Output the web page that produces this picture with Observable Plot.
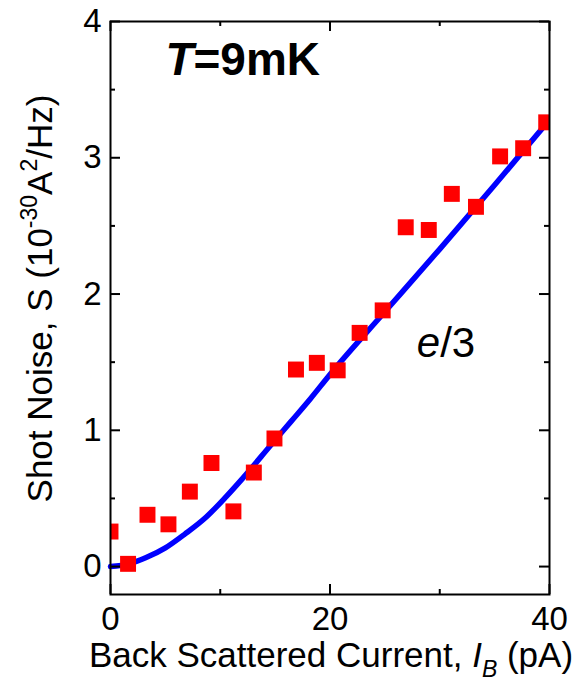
<!DOCTYPE html>
<html><head><meta charset="utf-8">
<script src="https://cdn.jsdelivr.net/npm/d3@7"></script>
<script src="https://cdn.jsdelivr.net/npm/@observablehq/plot@0.6"></script>
<style>body{margin:0;background:#fff}</style>
</head><body><div id="chart"></div>
<script>
// measured shot noise (red squares)
const measX = [0, 1.6, 3.37, 5.28, 7.23, 9.2, 11.2, 13.06, 14.94, 16.9, 18.8, 20.7, 22.7, 24.8, 26.9, 29.0, 31.1, 33.3, 35.5, 37.6, 39.7];
const measS = [0.257, 0.02, 0.38, 0.31, 0.55, 0.76, 0.405, 0.69, 0.94, 1.446, 1.495, 1.44, 1.715, 1.88, 2.49, 2.47, 2.735, 2.64, 3.01, 3.07, 3.26];
// e/3 theory curve (blue)
const fitX = [0, 1.7, 3.2, 5.0, 6.8, 8.7, 10.5, 12.0, 14.6, 16.4, 18.2, 20, 25, 30, 35, 39.7];
const fitS = [0, 0.02, 0.064, 0.137, 0.24, 0.362, 0.51, 0.644, 0.89, 1.06, 1.23, 1.41, 1.87, 2.33, 2.80, 3.25];
// ticks
const xMajor = [0, 20, 40];
const xMinor = [10, 30];
const yMajor = [0, 1, 2, 3, 4];
const yMinor = [0.5, 1.5, 2.5, 3.5];
const tempLabel = ["T=9mK"];
const fitLabel = ["e/3"];
const xLabel = "Back Scattered Current, IB (pA)";
const yLabel = "Shot Noise, S (10-30A2/Hz)";

const meas = measX.map((x, i) => ({x, s: measS[i]}));
const fit = fitX.map((x, i) => ({x, s: fitS[i]}));

const W = 580, H = 688;
const mL = 110, mR = 31, mT = 21, mB = 94;
const iW = W - mL - mR, iH = H - mT - mB;
const font = "'Liberation Sans', Arial, sans-serif";

const svg = Plot.plot({
  width: W, height: H,
  marginLeft: mL, marginRight: mR, marginTop: mT, marginBottom: mB,
  style: {fontFamily: font, background: "white", color: "black"},
  x: {domain: [0, 40]},
  y: {domain: [-0.205, 4]},
  marks: [
    Plot.line(fit, {x: "x", y: "s", stroke: "#0000ff", strokeWidth: 5.5, curve: "monotone-x", strokeLinecap: "round"}),
    Plot.dot(meas, {x: "x", y: "s", symbol: "square", r: 9, fill: "#ff0000", clip: true}),
    // inward ticks
    Plot.tickX(xMajor, {x: d => d, insetTop: iH - 10, strokeWidth: 2}),
    Plot.tickX(xMajor, {x: d => d, insetBottom: iH - 10, strokeWidth: 2}),
    Plot.tickX(xMinor, {x: d => d, insetTop: iH - 5, strokeWidth: 2}),
    Plot.tickX(xMinor, {x: d => d, insetBottom: iH - 5, strokeWidth: 2}),
    Plot.tickY(yMajor, {y: d => d, insetRight: iW - 10, strokeWidth: 2}),
    Plot.tickY(yMajor, {y: d => d, insetLeft: iW - 10, strokeWidth: 2}),
    Plot.tickY(yMinor, {y: d => d, insetRight: iW - 5, strokeWidth: 2}),
    Plot.tickY(yMinor, {y: d => d, insetLeft: iW - 5, strokeWidth: 2}),
    Plot.frame({stroke: "black", strokeWidth: 2}),
    Plot.axisX({ticks: xMajor, tickSize: 0, tickPadding: 12, fontSize: 33, label: null, tickFormat: d => String(d)}),
    Plot.axisY({ticks: yMajor, tickSize: 0, tickPadding: 9, fontSize: 33, label: null, tickFormat: d => String(d)}),
    Plot.text(tempLabel, {x: 5.0, y: 3.716, text: d => d, textAnchor: "start", fontSize: 46, fontWeight: "bold", fill: "black"}),
    Plot.text(fitLabel, {x: 30.57, y: 1.637, text: d => d, fontSize: 42, fill: "black"}),
    Plot.text([xLabel], {frameAnchor: "bottom", textAnchor: "middle", lineAnchor: "middle", dy: 61, dx: 1, text: d => d, fontSize: 35, fill: "black"}),
    Plot.text([yLabel], {frameAnchor: "left", textAnchor: "middle", lineAnchor: "middle", dx: -70, dy: -9.5, rotate: -90, text: d => d, fontSize: 35, fill: "black"})
  ]
});

function rich(el, parts) {
  const t = d3.select(el);
  t.text(null);
  for (const p of parts) {
    const s = t.append("tspan").text(p.t);
    if (p.italic) s.attr("font-style", "italic");
    if (p.size) s.attr("font-size", p.size);
    if (p.dy) s.attr("dy", p.dy);
  }
}
d3.select(svg).selectAll("text").each(function() {
  const c = this.textContent;
  if (c === "T=9mK") rich(this, [{t: "T", italic: true}, {t: "=9mK"}]);
  else if (c === "e/3") rich(this, [{t: "e", italic: true}, {t: "/3"}]);
  else if (c === xLabel) rich(this, [{t: "Back Scattered Current, "}, {t: "I", italic: true}, {t: "B", italic: true, size: 23, dy: 10}, {t: " (pA)", dy: -10}]);
  else if (c === yLabel) rich(this, [{t: "Shot Noise, S (10"}, {t: "-30", size: 23, dy: -15}, {t: "A", dy: 15}, {t: "2", size: 23, dy: -15}, {t: "/Hz)", dy: 15}]);
});
document.getElementById("chart").appendChild(svg);
</script>
</body></html>
